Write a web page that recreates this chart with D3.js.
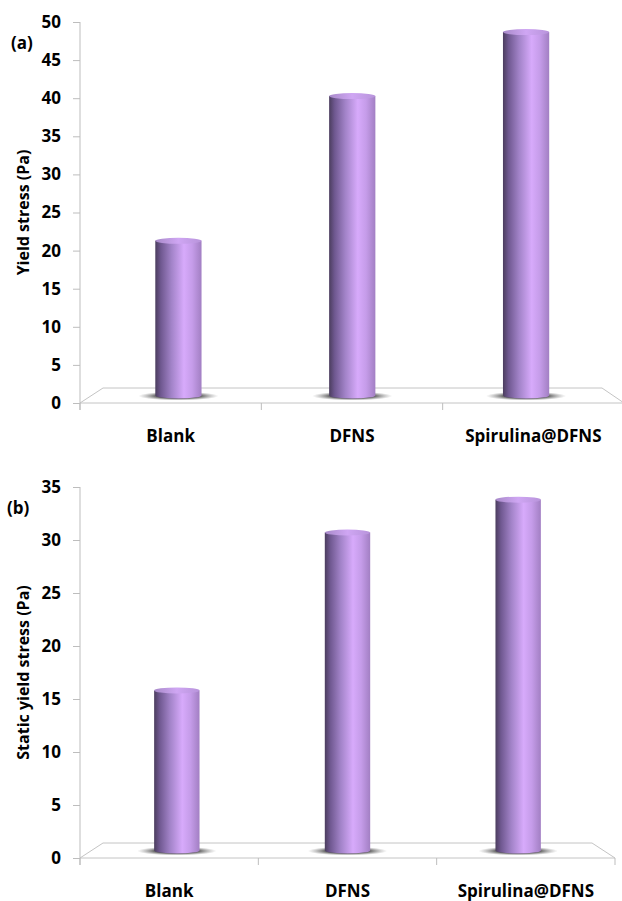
<!DOCTYPE html>
<html>
<head>
<meta charset="utf-8">
<script src="https://cdn.jsdelivr.net/npm/d3@7"></script>
<style>
  html, body { margin: 0; padding: 0; background: #fff; }
  svg { display: block; }
  text { font-family: "Open Sans", "DejaVu Sans", sans-serif; font-weight: 700; fill: #000; }
</style>
</head>
<body>
<svg id="chart" width="622" height="901"></svg>
<script>
// Data
const categories = ["Blank", "DFNS", "Spirulina@DFNS"];
const yieldStress = [20.3, 39.3, 47.7];          // panel (a), Pa
const staticYieldStress = [15.1, 30.0, 33.1];    // panel (b), Pa
const yTicksA = [0, 5, 10, 15, 20, 25, 30, 35, 40, 45, 50];
const yTicksB = [0, 5, 10, 15, 20, 25, 30, 35];

const svg = d3.select("#chart");
const defs = svg.append("defs");

// Cylinder body shading: dark left rim, bright highlight right of centre
const body = defs.append("linearGradient").attr("id", "cylBody")
  .attr("x1", "0").attr("x2", "1").attr("y1", "0").attr("y2", "0");
[["0%", "#4b3d5e"], ["12%", "#6f5890"], ["35%", "#a283c8"], ["62%", "#d7aafb"],
 ["80%", "#c59ce9"], ["100%", "#a27fc3"]].forEach(([o, c]) =>
  body.append("stop").attr("offset", o).attr("stop-color", c));

const cap = defs.append("linearGradient").attr("id", "cylCap")
  .attr("x1", "0").attr("x2", "1").attr("y1", "0").attr("y2", "0");
[["0%", "#a88ac9"], ["50%", "#cfa6f3"], ["100%", "#b894db"]].forEach(([o, c]) =>
  cap.append("stop").attr("offset", o).attr("stop-color", c));

const shadow = defs.append("radialGradient").attr("id", "cylShadow");
[["0%", "#222", 0.95], ["55%", "#444", 0.85], ["100%", "#888", 0]].forEach(([o, c, a]) =>
  shadow.append("stop").attr("offset", o).attr("stop-color", c).attr("stop-opacity", a));

function drawPanel(opt) {
  const { values, ticks, max, label, title, x0, x1, yTop, yBottom, depthX, depthY, backX1 } = opt;
  const g = svg.append("g");

  const y = d3.scaleLinear().domain([0, max]).range([yBottom, yTop]);
  // front edge of the floor carries the category ticks and labels
  const xFront = d3.scaleBand().domain(categories).range([x0, x1]).paddingInner(0).paddingOuter(0);
  // bars stand half way back on the floor (perspective narrows the floor toward the back)
  const bx0 = x0 + depthX;
  const xMid = d3.scaleBand().domain(categories)
    .range([(x0 + bx0) / 2, (x1 + backX1) / 2]);
  const midOffset = depthY / 2;

  // floor
  g.append("path")
    .attr("d", `M${x0},${yBottom} L${bx0},${yBottom - depthY} L${backX1},${yBottom - depthY} L${x1},${yBottom} Z`)
    .attr("fill", "#fff").attr("stroke", "#c4c4c4").attr("stroke-width", 1);

  // value axis
  const axisY = d3.axisLeft(y).tickValues(ticks).tickSize(7).tickSizeOuter(0).tickPadding(12);
  const ay = g.append("g").attr("transform", `translate(${x0},0)`).call(axisY);
  ay.select(".domain").attr("stroke", "#bdbdbd").attr("d", `M0,${yTop}V${yBottom + 7}`);
  ay.selectAll(".tick line").attr("stroke", "#bdbdbd");
  ay.selectAll(".tick text").attr("font-size", 17).attr("fill", "#000")
    .attr("font-family", "'Open Sans', sans-serif").attr("font-weight", 700);

  // category ticks along the front edge
  const bounds = categories.map(c => xFront(c)).concat([x1]);
  g.selectAll(".ctick").data(bounds).join("line").attr("class", "ctick")
    .attr("x1", d => d).attr("x2", d => d)
    .attr("y1", yBottom).attr("y2", yBottom + 7)
    .attr("stroke", "#bdbdbd");

  // category labels
  g.selectAll(".clabel").data(categories).join("text").attr("class", "clabel")
    .attr("x", d => xFront(d) + xFront.bandwidth() / 2)
    .attr("y", yBottom + 39)
    .attr("text-anchor", "middle").attr("font-size", 17)
    .text(d => d);

  // cylinders
  const r = xMid.bandwidth() * 0.133;
  const ry = 3;
  const baseY = yBottom - midOffset;
  const bars = g.selectAll(".bar").data(categories.map((c, i) => ({ c, v: values[i] })))
    .join("g").attr("class", "bar");

  bars.append("ellipse")
    .attr("cx", d => xMid(d.c) + xMid.bandwidth() / 2)
    .attr("cy", baseY + 0.5)
    .attr("rx", r + 17).attr("ry", 4.5)
    .attr("fill", "url(#cylShadow)");

  bars.append("path")
    .attr("d", d => {
      const cx = xMid(d.c) + xMid.bandwidth() / 2;
      const top = y(d.v) - midOffset;
      return `M${cx - r},${top} L${cx - r},${baseY} A${r},${ry} 0 0 0 ${cx + r},${baseY} L${cx + r},${top} Z`;
    })
    .attr("fill", "url(#cylBody)");

  bars.append("ellipse")
    .attr("cx", d => xMid(d.c) + xMid.bandwidth() / 2)
    .attr("cy", d => y(d.v) - midOffset)
    .attr("rx", r).attr("ry", ry)
    .attr("fill", "url(#cylCap)");

  // axis title
  g.append("text")
    .attr("transform", `translate(29,${(yTop + yBottom) / 2}) rotate(-90)`)
    .attr("text-anchor", "middle").attr("font-size", 16)
    .text(title);

  // panel tag
  g.append("text").attr("x", opt.tagX).attr("y", opt.tagY)
    .attr("font-size", 17).text(label);
}

drawPanel({
  values: yieldStress, ticks: yTicksA, max: 50, label: "(a)", title: "Yield stress (Pa)",
  x0: 80, x1: 624, backX1: 602, yTop: 22, yBottom: 403, depthX: 23, depthY: 15,
  tagX: 11, tagY: 49
});

drawPanel({
  values: staticYieldStress, ticks: yTicksB, max: 35, label: "(b)", title: "Static yield stress (Pa)",
  x0: 80, x1: 615, backX1: 592, yTop: 487, yBottom: 858, depthX: 23, depthY: 15,
  tagX: 7, tagY: 514
});
</script>
</body>
</html>
